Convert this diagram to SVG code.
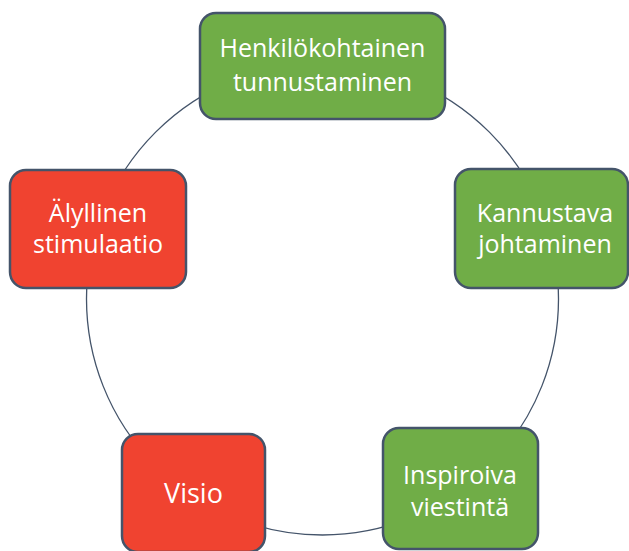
<svg xmlns="http://www.w3.org/2000/svg" width="629" height="551" viewBox="0 0 629 551">
<style>
.node rect{stroke:#44546A;stroke-width:2.5}
.g{fill:#70AD47}
.r{fill:#F04330}
.node text{font-family:"Open Sans","Noto Sans","Liberation Sans",sans-serif;font-size:25px;fill:#FFFFFF;text-anchor:middle}
</style>
<rect width="629" height="551" fill="#FFFFFF"/>
<g id="connectors">
<circle cx="322.5" cy="299" r="236" fill="none" stroke="#44546A" stroke-width="1.3"/>
</g>
<g id="n1" class="node">
<rect class="g" x="200" y="13" width="245" height="106" rx="16"/>
<text x="322.5" y="57">Henkilökohtainen</text>
<text x="322.5" y="91">tunnustaminen</text>
</g>
<g id="n2" class="node">
<rect class="g" x="455" y="169" width="173" height="119" rx="16"/>
<text x="545" y="222">Kannustava</text>
<text x="545" y="253">johtaminen</text>
</g>
<g id="n3" class="node">
<rect class="g" x="383" y="428" width="155" height="121" rx="16"/>
<text x="460" y="484">Inspiroiva</text>
<text x="460" y="516">viestintä</text>
</g>
<g id="n4" class="node">
<rect class="r" x="122" y="434" width="143" height="118" rx="16"/>
<text x="193.5" y="503" style="font-size:27px">Visio</text>
</g>
<g id="n5" class="node">
<rect class="r" x="10" y="170" width="176" height="118" rx="16"/>
<text x="98" y="222">Älyllinen</text>
<text x="98" y="253">stimulaatio</text>
</g>
</svg>
